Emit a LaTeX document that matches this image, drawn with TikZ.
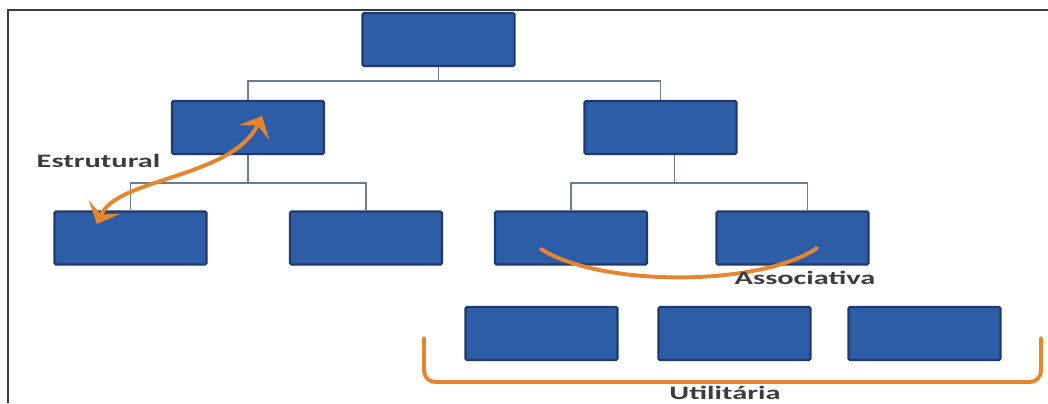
\documentclass[tikz,border=0pt]{standalone}
\usepackage{fontspec}
\setmainfont{Carlito}
\usetikzlibrary{arrows.meta,calc}

\definecolor{azulcaixa}{HTML}{2E5DA8}
\definecolor{azulborda}{HTML}{1F3A68}
\definecolor{cinzaliga}{HTML}{687E94}
\definecolor{laranja}{HTML}{E5852F}
\definecolor{cinzatexto}{HTML}{3C3C3C}

\tikzset{
  caixa/.style={draw=azulborda, fill=azulcaixa, line width=1.5pt, rounded corners=1pt,
    minimum width=3.8cm, minimum height=1.325cm, inner sep=0pt},
  liga/.style={draw=cinzaliga, line width=0.9pt},
  seta/.style={draw=laranja, line width=2.8pt, line cap=round},
  ponta/.style={arrows={Stealth[length=4.6mm,width=8.5mm,inset=2mm]-Stealth[length=4.6mm,width=8.5mm,inset=2mm]}},
  rotulo/.style={text=cinzatexto, font=\fontsize{13.5}{15}\selectfont\bfseries, xscale=1.6, inner sep=0pt}
}

\begin{document}
\begin{tikzpicture}[x=0.025cm,y=-0.025cm]
	%\draw[help lines] (0,0) grid (1048,403);
	\useasboundingbox (0,0) rectangle (1048,403);
	%FRAME
	\draw[line width=1.4pt, draw=cinzatexto] (8,403) -- (8,10) -- (1048,10);
	
	%BOXES
	\node[caixa] (topo) at (438.5,39.5) {};
	\node[caixa] (n1l) at (248,127.5) {};
	\node[caixa] (n1r) at (660.5,127.5) {};
	\node[caixa] (n2a) at (130.5,238) {};
	\node[caixa] (n2b) at (366,238) {};
	\node[caixa] (n2c) at (571,238) {};
	\node[caixa] (n2d) at (792.5,238) {};
	\node[caixa] (n3a) at (541.5,333.5) {};
	\node[caixa] (n3b) at (734.5,333.5) {};
	\node[caixa] (n3c) at (924.5,333.5) {};
	
	%CONNECTORS
	\draw[liga] (topo.south) -- ++(0,14) coordinate (b0);
	\draw[liga] (n1l.north) |- (b0) -| (n1r.north);
	\draw[liga] (n1l.south) -- ++(0,28) coordinate (b1);
	\draw[liga] (n2a.north) |- (b1) -| (n2b.north);
	\draw[liga] ($(n1r.south)+(14,0)$) -- ++(0,28) coordinate (b2);
	\draw[liga] (n2c.north) |- (b2) -| ($(n2d.north)+(15,0)$);
	
	%RELATIONS
	\coordinate (estA) at (97,224);
	\coordinate (estB) at (262,116);
	\draw[seta, ponta] (estA) .. controls (117,178) and (232,178) .. (estB);
	\coordinate (assA) at (541,249);
	\coordinate (assB) at (817,248);
	\draw[seta] (assA) .. controls (600,287) and (760,287) .. (assB);
	\coordinate (utiA) at (424,338);
	\coordinate (utiB) at (1041,338);
	\draw[seta, rounded corners=8pt] (utiA) -- (424,382) -- (1041,382) -- (utiB);
	
	%LABELS
	\node[rotulo] (lest) at (98.5,161) {Estrutural};
	\node[rotulo] (lass) at (805,278) {Associativa};
	\node[rotulo] (luti) at (725,393) {Utilitária};
\end{tikzpicture}
\end{document}
